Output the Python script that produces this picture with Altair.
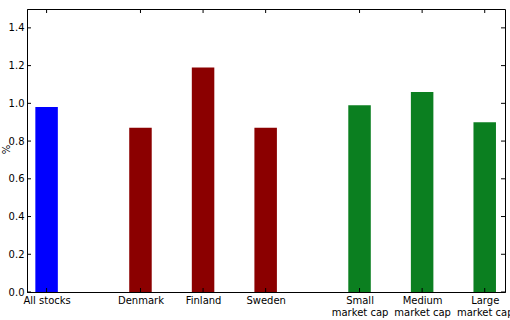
import altair as alt
import pandas as pd

categories = ["All stocks", "Denmark", "Finland", "Sweden",
              "Small\nmarket cap", "Medium\nmarket cap", "Large\nmarket cap"]
positions = [0, 1.5, 2.5, 3.5, 5, 6, 7]
values = [0.98, 0.87, 1.19, 0.87, 0.99, 1.06, 0.90]
groups = ["all", "country", "country", "country", "size", "size", "size"]
y_ticks = [0.0, 0.2, 0.4, 0.6, 0.8, 1.0, 1.2, 1.4]

df = pd.DataFrame({"category": categories, "pos": positions,
                   "value": values, "group": groups})
yt = pd.DataFrame({"value": y_ticks})
xt = pd.DataFrame({"pos": positions})

W, H = 478, 283
xscale = alt.Scale(domain=[-0.313, 7.324], nice=False, zero=False, padding=0)
yscale = alt.Scale(domain=[0, 1.5], nice=False, padding=0)


def lab(s):
    parts = s.split("\n")
    if len(parts) == 1:
        return "'" + parts[0] + "'"
    return "[" + ", ".join("'" + p + "'" for p in parts) + "]"


expr = ""
for p, c in zip(positions, categories):
    expr += f"datum.value == {p} ? {lab(c)} : "
expr += "''"

FONT = "DejaVu Sans"

bars = alt.Chart(df).mark_bar(size=22.5).encode(
    x=alt.X("pos:Q", scale=xscale,
            axis=alt.Axis(values=positions, labelExpr=expr, ticks=False,
                          grid=False, title=None, labelOverlap=False,
                          labelFlush=False, labelBound=False, labelPadding=3,
                          labelFontSize=10, labelFont=FONT, labelColor="black",
                          labelLineHeight=12, domainColor="black",
                          labelBaseline="top")),
    y=alt.Y("value:Q", scale=yscale,
            axis=alt.Axis(values=y_ticks, format=".1f", ticks=False, grid=False,
                          title="%", titleFont=FONT, titleFontSize=10,
                          titleFontWeight="normal", titleColor="black",
                          titleX=-21, titleY=140, titleAngle=270,
                          titleAlign="center", titleBaseline="middle",
                          labelPadding=3, labelFontSize=10, labelFont=FONT,
                          labelColor="black", domainColor="black")),
    color=alt.Color("group:N", legend=None,
                    scale=alt.Scale(domain=["all", "country", "size"],
                                    range=["#0000ff", "#8b0000", "#0b7f20"])),
)

left_ticks = alt.Chart(yt).mark_rule(color="black").encode(
    y=alt.Y("value:Q", scale=yscale), x=alt.value(0), x2=alt.value(4))
right_ticks = alt.Chart(yt).mark_rule(color="black").encode(
    y=alt.Y("value:Q", scale=yscale), x=alt.value(W - 4), x2=alt.value(W))
top_ticks = alt.Chart(xt).mark_rule(color="black").encode(
    x=alt.X("pos:Q", scale=xscale), y=alt.value(0), y2=alt.value(4))
bottom_ticks = alt.Chart(xt).mark_rule(color="black").encode(
    x=alt.X("pos:Q", scale=xscale), y=alt.value(H - 4), y2=alt.value(H))

chart = alt.layer(bars, left_ticks, right_ticks, top_ticks, bottom_ticks).properties(
    width=W, height=H,
    autosize=alt.AutoSizeParams(type="none"),
    padding={"left": 27, "top": 9, "right": 5, "bottom": 28},
    background="white",
).configure_view(stroke="black", strokeWidth=1)

chart.save("out.html", embed_options={"renderer": "svg", "actions": False})
